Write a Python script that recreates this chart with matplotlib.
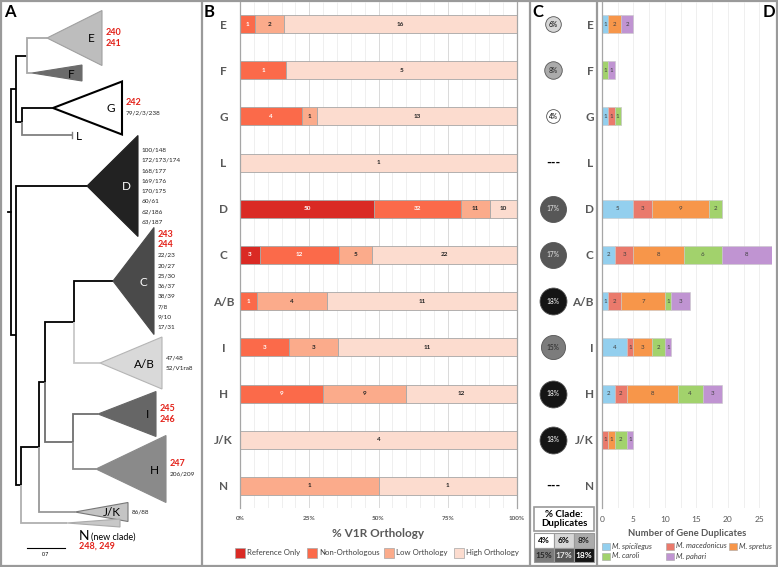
import numpy as np
import matplotlib.pyplot as plt
from matplotlib.patches import Polygon, Rectangle
from matplotlib.transforms import blended_transform_factory

plt.rcParams['font.family'] = ['Lato', 'DejaVu Sans']

# clades, top to bottom
clades = ['E', 'F', 'G', 'L', 'D', 'C', 'A/B', 'I', 'H', 'J/K', 'N']

# panel B: V1R orthology counts per clade
orth_names = ['Reference Only', 'Non-Orthologous', 'Low Orthology', 'High Orthology']
ref_only = [0, 0, 0, 0, 50, 3, 0, 0, 0, 0, 0]
non_orth = [1, 1, 4, 0, 32, 12, 1, 3, 9, 0, 0]
low_orth = [2, 0, 1, 0, 11, 5, 4, 3, 9, 0, 1]
high_orth = [16, 5, 13, 1, 10, 22, 11, 11, 12, 4, 1]
orth_ticks = ['0%', '25%', '50%', '75%', '100%']

# panel C: % of clade that are duplicates (None = none)
pct_dup = [6, 8, 4, None, 17, 17, 18, 15, 18, 18, None]
pct_levels = [4, 6, 8, 15, 17, 18]

# panel D: gene duplicates per species
species = ['M. spicilegus', 'M. macedonicus', 'M. spretus', 'M. caroli', 'M. pahari']
spicilegus = [1, 0, 1, 0, 5, 2, 1, 4, 2, 0, 0]
macedonicus = [0, 0, 1, 0, 3, 3, 2, 1, 2, 1, 0]
spretus = [2, 0, 0, 0, 9, 8, 7, 3, 8, 1, 0]
caroli = [0, 1, 1, 0, 2, 6, 1, 2, 4, 2, 0]
pahari = [2, 1, 0, 0, 0, 8, 3, 1, 3, 1, 0]
dup_ticks = [0, 5, 10, 15, 20, 25]

# panel A: tree (drawing units = pixels of panel A)
leaf_x = dict(zip(clades, [47, 32, 53, 72, 87, 113, 100, 98, 96, 75, 67]))
leaf_y = dict(zip(clades, [38, 73, 108, 135, 186, 281, 363, 414, 469, 512, 523]))
tip_x = dict(zip(clades, [102, 82, 122, None, 138, 154, 162, 156, 166, 128, 120]))
half_h = dict(zip(clades, [27.5, 8, 26.5, 0, 50.5, 53.5, 26, 22.5, 33.5, 9.5, 4]))
nodes = {
    'root': (11, ['EFGL', 'DX']),
    'EFGL': (16, ['EF', 'GL']),
    'EF': (27, ['E', 'F']),
    'GL': (22, ['G', 'L']),
    'DX': (16, ['D', 'R1']),
    'R1': (21, ['R2', 'N']),
    'R2': (39, ['R3', 'J/K']),
    'R3': (45, ['CAB', 'IH']),
    'CAB': (74, ['C', 'A/B']),
    'IH': (73, ['I', 'H']),
}
branch_col = {'EFGL': 'k', 'EF': 'k', 'GL': 'k', 'DX': 'k', 'R1': 'k', 'R2': 'k',
              'R3': 'k', 'CAB': 'k', 'IH': '#6e6e6e',
              'E': '#a8a8a8', 'F': '#a8a8a8', 'G': 'k', 'L': '#808080', 'D': 'k',
              'C': 'k', 'A/B': '#c8c8c8', 'I': '#6e6e6e', 'H': '#8a8a8a',
              'J/K': '#999999', 'N': '#b0b0b0'}
tri_fill = {'E': '#bdbdbd', 'F': '#6b6b6b', 'G': 'white', 'D': '#222222', 'C': '#4a4a4a',
            'A/B': '#d9d9d9', 'I': '#666666', 'H': '#8a8a8a', 'J/K': '#c4c4c4', 'N': '#c8c8c8'}
tri_edge = {'E': '#a0a0a0', 'F': '#6b6b6b', 'G': 'k', 'D': '#222222', 'C': '#4a4a4a',
            'A/B': '#b5b5b5', 'I': '#666666', 'H': '#8a8a8a', 'J/K': '#777777', 'N': '#aaaaaa'}
red_ids = {'E': ['240', '241'], 'G': ['242'], 'C': ['243', '244'], 'I': ['245', '246'], 'H': ['247']}
pair_ids = {
    'G': ['79/2/3/238'],
    'D': ['100/148', '172/173/174', '168/177', '169/176', '170/175', '60/61', '62/186', '63/187'],
    'C': ['22/23', '20/27', '25/30', '36/37', '38/39', '7/8', '9/10', '17/31'],
    'A/B': ['47/48', '52/V1ra8'],
    'H': ['206/209'],
    'J/K': ['86/88'],
}

orth_cols = ['#da2a24', '#fb6a4a', '#fbab8b', '#fcdccf']
orth_txt = ['white', 'white', '#222222', '#222222']
sp_cols = ['#93cfee', '#ea7a6c', '#f7964a', '#a2d26c', '#c094d2']
shade = {4: 'white', 6: '#d6d6d6', 8: '#ababab', 15: '#7c7c7c', 17: '#575757', 18: '#151515'}
shade_txt = {4: 'k', 6: 'k', 8: '#222222', 15: '#262626', 17: '#e6e6e6', 18: 'white'}
gray = '#595959'

W, H = 778, 567
fig = plt.figure(figsize=(W / 100, H / 100), dpi=100)
ov = fig.add_axes([0, 0, 1, 1])
ov.set_xlim(0, W)
ov.set_ylim(H, 0)
ov.axis('off')


def px_rect(x0, y0, x1, y1):
    return [x0 / W, 1 - y1 / H, (x1 - x0) / W, (y1 - y0) / H]


# panel borders
ov.add_patch(Rectangle((1, 1), W - 2, H - 2, fill=False, ec='#9a9a9a', lw=1.6))
for xb in [202, 530, 597]:
    ov.plot([xb, xb], [1, H - 1], color='#9a9a9a', lw=1.6)
for lab, xl, ha in [('A', 4, 'left'), ('B', 204, 'left'), ('C', 532, 'left'), ('D', 775, 'right')]:
    ov.text(xl, 12, lab, fontsize=12, fontweight='bold', ha=ha, va='center')

# ---------------- panel A: tree ----------------
node_y = {}


def get_y(n):
    if n in leaf_y:
        return leaf_y[n]
    if n not in node_y:
        node_y[n] = np.mean([get_y(c) for c in nodes[n][1]])
    return node_y[n]


def get_x(n):
    return leaf_x[n] if n in leaf_x else nodes[n][0]


for n, (nx, kids) in nodes.items():
    ny = get_y(n)
    for c in kids:
        cy, cx = get_y(c), get_x(c)
        col = branch_col[c]
        ov.plot([nx, nx, cx], [ny, cy, cy], color=col, lw=1.3, solid_joinstyle='miter',
                solid_capstyle='butt')

ov.plot([8, 11], [get_y('root')] * 2, color='k', lw=1.3)
ov.plot([leaf_x['L']] * 2, [leaf_y['L'] - 3, leaf_y['L'] + 3], color='#808080', lw=1)
ov.text(leaf_x['L'] + 4, leaf_y['L'] + 1, 'L', fontsize=8.5, va='center')

for c in clades:
    if tip_x[c] is None:
        continue
    ax_, ay, tx, hh = leaf_x[c], leaf_y[c], tip_x[c], half_h[c]
    lw = 1.5 if c == 'G' else 0.8
    ov.add_patch(Polygon([(ax_, ay), (tx, ay - hh), (tx, ay + hh)], closed=True,
                         fc=tri_fill[c], ec=tri_edge[c], lw=lw, zorder=3))
    if c == 'N':
        continue
    lc = 'white' if c in ('D', 'C') else 'k'
    ov.text(tx - 7, ay + 1, c, fontsize=8.5, ha='right', va='center', color=lc, zorder=4)
    lines = [(t, '#e3231b', 6.5, 'bold') for t in red_ids.get(c, [])] + \
            [(t, '#222222', 4.6, 'normal') for t in pair_ids.get(c, [])]
    step = 10.3
    y0 = ay - step * (len(lines) - 1) / 2
    for k, (t, col, fs, fw) in enumerate(lines):
        ov.text(tx + 4, y0 + k * step, t, fontsize=fs, color=col, fontweight=fw, va='center')

ov.text(leaf_x['N'] + 12, 536, 'N', fontsize=10, va='center')
ov.text(leaf_x['N'] + 24, 537, '(new clade)', fontsize=6.5, va='center')
ov.text(leaf_x['N'] + 12, 546, '248, 249', fontsize=6.5, color='#e3231b', fontweight='bold', va='center')
ov.plot([27, 65], [548, 548], color='k', lw=0.8)
ov.text(46, 554, '0.7', fontsize=3.8, ha='center', va='center')

# ---------------- panel B: orthology ----------------
ypos = np.arange(len(clades))
axb = fig.add_axes(px_rect(240, 2, 517, 508), facecolor='none')
series = np.array([ref_only, non_orth, low_orth, high_orth], dtype=float)
totals = series.sum(axis=0)
left = np.zeros(len(clades))
for vals, col, tc in zip(series, orth_cols, orth_txt):
    w = vals / totals * 100
    axb.barh(ypos, w, left=left, height=0.39, color=col, edgecolor='#a6a6a6', lw=0.6, zorder=2)
    for i in range(len(clades)):
        if vals[i] > 0:
            axb.text(left[i] + w[i] / 2, ypos[i], f'{int(vals[i])}', ha='center', va='center',
                     fontsize=4.6, fontweight='bold', color=tc, zorder=3)
    left += w
axb.set_xlim(0, 100)
axb.set_ylim(len(clades) - 0.52, -0.48)
axb.set_xticks([0, 25, 50, 75, 100], orth_ticks)
axb.set_xticks(np.arange(0, 101, 5), minor=True)
axb.grid(True, axis='x', which='minor', color='#ececec', lw=0.6)
axb.grid(True, axis='x', which='major', color='#d9d9d9', lw=0.7)
axb.set_axisbelow(True)
axb.set_yticks(ypos, clades)
for t in axb.get_yticklabels():
    t.set_ha('center')
axb.tick_params(axis='y', length=0, pad=12, labelsize=8.5, labelcolor=gray)
axb.tick_params(axis='x', which='both', length=0, pad=6, labelsize=4.6, labelcolor=gray)
for t in axb.get_yticklabels() + axb.get_xticklabels():
    t.set_fontweight('bold')
for s in ['top', 'bottom']:
    axb.spines[s].set_visible(False)
for s in ['left', 'right']:
    axb.spines[s].set_color('#a6a6a6')
    axb.spines[s].set_linewidth(0.9)
axb.set_xlabel('% V1R Orthology', fontsize=8.5, fontweight='bold', color=gray, labelpad=5)

lx = [235, 307, 384, 454]
for name, col, x0 in zip(orth_names, orth_cols, lx):
    ov.add_patch(Rectangle((x0, 548), 10, 10, fc=col, ec='#a6a6a6', lw=0.5))
    ov.text(x0 + 12, 553, name, fontsize=5.6, color='#404040', va='center')

# ---------------- panel D: duplicates ----------------
axd = fig.add_axes(px_rect(602, 2, 772, 508), facecolor='none')
dup = np.array([spicilegus, macedonicus, spretus, caroli, pahari], dtype=float)
left = np.zeros(len(clades))
for vals, col in zip(dup, sp_cols):
    axd.barh(ypos, vals, left=left, height=0.39, color=col, edgecolor='#c8c8c8', lw=0.4, zorder=2)
    for i in range(len(clades)):
        if vals[i] > 0:
            axd.text(left[i] + vals[i] / 2, ypos[i], f'{int(vals[i])}', ha='center', va='center',
                     fontsize=4.4, color='#404040', zorder=3)
    left += vals
axd.set_xlim(0, 27)
axd.set_ylim(len(clades) - 0.52, -0.48)
axd.set_xticks(dup_ticks)
axd.set_xticks(np.arange(0, 27.1, 2.5), minor=True)
axd.grid(True, axis='x', which='both', color='#ececec', lw=0.6)
axd.set_axisbelow(True)
axd.set_yticks(ypos, clades)
axd.tick_params(axis='y', length=0, pad=6, labelsize=8.5, labelcolor=gray)
axd.tick_params(axis='x', which='both', length=0, pad=6, labelsize=6, labelcolor=gray)
for t in axd.get_yticklabels():
    t.set_fontweight('bold')
for s in ['top', 'bottom', 'right']:
    axd.spines[s].set_visible(False)
axd.spines['left'].set_color('#a6a6a6')
axd.spines['left'].set_linewidth(0.9)
axd.set_xlabel('Number of Gene Duplicates', fontsize=6.8, fontweight='bold', color=gray, labelpad=4)

sp_pos = [(602, 546), (666, 546), (729, 546), (602, 556), (666, 556)]
for name, col, (x0, y0) in zip(species, sp_cols, sp_pos):
    ov.add_patch(Rectangle((x0, y0 - 3.5), 8, 7, fc=col, ec='#a6a6a6', lw=0.4))
    ov.text(x0 + 10, y0, name, fontsize=5.4, style='italic', color='#404040', va='center')

# ---------------- panel C: % duplicates circles ----------------
trans = blended_transform_factory(ov.transData, axd.transData)
for i, p in enumerate(pct_dup):
    if p is None:
        ov.text(553, ypos[i], '---', transform=trans, fontsize=9, fontweight='bold',
                ha='center', va='center')
        continue
    d = (10 + 0.94 * p) * 0.72
    ov.scatter([553], [ypos[i]], s=d ** 2, transform=trans, color=shade[p],
               edgecolor='#555555', linewidth=0.6, zorder=3)
    ov.text(553, ypos[i], f'{p}%', transform=trans, fontsize=4.8, ha='center', va='center',
            color=shade_txt[p], zorder=4)

ov.add_patch(Rectangle((534, 507), 60, 24, fc='white', ec='#9a9a9a', lw=1.2))
ov.text(564, 519, '% Clade:\nDuplicates', fontsize=7, fontweight='bold', ha='center',
        va='center', linespacing=1.1)
for k, p in enumerate(pct_levels):
    cx = 534 + 20 * (k % 3)
    cy = 533 + 14.5 * (k // 3)
    ov.add_patch(Rectangle((cx, cy), 20, 14.5, fc=shade[p], ec='#9a9a9a', lw=0.8))
    ov.text(cx + 10, cy + 7.5, f'{p}%', fontsize=6, fontweight='bold', ha='center',
            va='center', color=shade_txt[p])

fig.savefig('out.png', dpi=100)
